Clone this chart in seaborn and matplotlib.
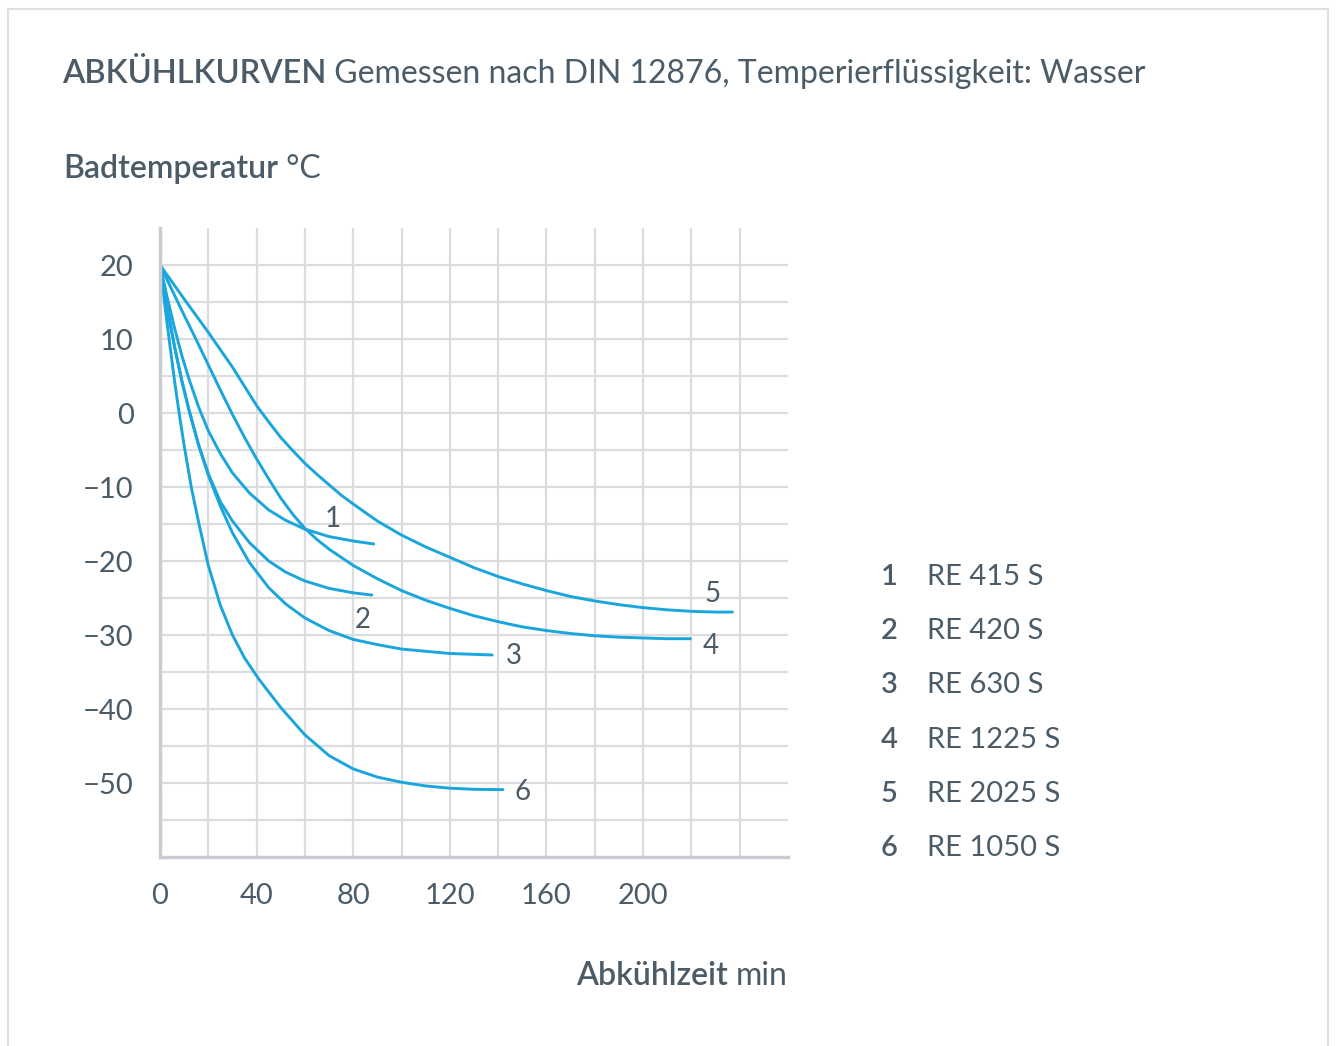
import numpy as np
import pandas as pd
import seaborn as sns
import matplotlib.pyplot as plt
from matplotlib.lines import Line2D

# readings from the chart: cooling time (min) and bath temperature (degC)
t_415 = [0, 3, 6, 9, 12, 16, 20, 25, 30, 37, 45, 52, 60, 70, 80, 88.5]
T_415 = [20, 15.6, 11.5, 7.8, 4.6, 0.8, -2.4, -5.5, -8.1, -10.8, -13.1, -14.5, -15.7, -16.7, -17.3, -17.7]

t_420 = [0, 3, 6, 9, 12, 16, 20, 25, 30, 37, 45, 52, 60, 70, 80, 87.7]
T_420 = [20, 14.2, 9.0, 4.4, 0.4, -4.3, -8.2, -12.0, -14.6, -17.5, -20.0, -21.5, -22.7, -23.7, -24.3, -24.6]

t_630 = [0, 3, 6, 9, 12, 16, 20, 25, 30, 37, 45, 52, 60, 70, 80, 90, 100, 110, 120, 137.5]
T_630 = [20, 14.2, 9.0, 4.4, 0.4, -4.4, -8.4, -12.6, -16.2, -20.2, -23.6, -25.8, -27.7, -29.4, -30.6,
         -31.3, -31.9, -32.2, -32.5, -32.7]

t_1225 = [0, 5, 10, 15, 20, 25, 30, 35, 40, 45, 50, 55, 60, 65, 70, 80, 90, 100, 110, 120,
          130, 140, 150, 160, 170, 180, 190, 200, 210, 219.6]
T_1225 = [20, 16.6, 13.2, 9.9, 6.5, 3.1, -0.2, -3.3, -6.2, -8.9, -11.5, -13.7, -15.6, -17.1, -18.4,
          -20.6, -22.4, -24.0, -25.3, -26.4, -27.4, -28.2, -28.9, -29.4, -29.8, -30.1, -30.3, -30.4,
          -30.5, -30.5]

t_2025 = [0, 10, 20, 30, 40, 45, 50, 55, 60, 65, 70, 75, 80, 90, 100, 110, 120, 130, 140, 150,
          160, 170, 180, 190, 200, 210, 220, 230, 237]
T_2025 = [20, 15.4, 10.9, 6.2, 1.0, -1.2, -3.3, -5.1, -6.8, -8.3, -9.7, -11.1, -12.3, -14.6, -16.5,
          -18.1, -19.5, -20.9, -22.1, -23.1, -24.0, -24.8, -25.4, -25.9, -26.3, -26.6, -26.8, -26.9,
          -26.9]

t_1050 = [0, 2, 4, 6, 8, 10, 13, 16, 20, 25, 30, 35, 41, 50, 60, 70, 80, 90, 100, 110, 120, 130, 142]
T_1050 = [20, 14.6, 9.4, 4.4, -0.2, -4.4, -10.1, -14.8, -20.6, -26.0, -30.0, -33.1, -36.0, -39.8,
          -43.5, -46.3, -48.1, -49.2, -49.9, -50.4, -50.7, -50.85, -50.9]

numbers = ['1', '2', '3', '4', '5', '6']
models = ['RE 415 S', 'RE 420 S', 'RE 630 S', 'RE 1225 S', 'RE 2025 S', 'RE 1050 S']
label_t = [71.7, 84.1, 146.3, 228, 228.8, 150]
label_T = [-14.3, -28.0, -32.8, -31.5, -24.4, -51.2]

x_ticks = [0, 40, 80, 120, 160, 200]
y_ticks = [-50, -40, -30, -20, -10, 0, 10, 20]

series = [(t_415, T_415), (t_420, T_420), (t_630, T_630),
          (t_1225, T_1225), (t_2025, T_2025), (t_1050, T_1050)]
frames = []
for n, (t, T) in zip(numbers, series):
    frames.append(pd.DataFrame({'min': t, 'temp': T, 'curve': n}))
df = pd.concat(frames, ignore_index=True)

sns.set_style('white')
plt.rcParams['font.family'] = ['Lato', 'DejaVu Sans']

line_col = '#1aa6dc'
text_col = '#4b5c68'
grid_col = '#dadcdf'

fig = plt.figure(figsize=(13.36, 10.46), dpi=100)
ax = fig.add_axes([160 / 1336, 1 - 857 / 1046, 628 / 1336, 629 / 1046])

sns.lineplot(data=df, x='min', y='temp', hue='curve', units='curve', estimator=None,
             palette=[line_col] * 6, linewidth=2.1, legend=False, ax=ax, sort=False)

ax.set_xlim(0, 260)
ax.set_ylim(-60, 25)

# grid every 20 min / 5 degC, labels only on some
xg = np.arange(0, 241, 20)
yg = np.arange(-55, 21, 5)
ax.set_xticks(xg)
ax.set_xticklabels([str(v) if v in x_ticks else '' for v in xg])
ax.set_yticks(yg)
ax.set_yticklabels([str(v).replace('-', '\u2212') if v in y_ticks else '' for v in yg])
ax.grid(True, color=grid_col, linewidth=1.6)
ax.set_axisbelow(True)
ax.tick_params(length=0, labelsize=21, labelcolor=text_col)
ax.tick_params(axis='y', pad=19)
ax.tick_params(axis='x', pad=19)
for s in ['top', 'right']:
    ax.spines[s].set_visible(False)
for s in ['left', 'bottom']:
    ax.spines[s].set_color('#c9cdd1')
    ax.spines[s].set_linewidth(2.5)
ax.set_xlabel('')
ax.set_ylabel('')

for n, x, y in zip(numbers, label_t, label_T):
    ax.text(x, y, n, color=text_col, fontsize=20, ha='center', va='center')

# title line
t1 = fig.text(62 / 1336, 1 - 83 / 1046, 'ABKÜHLKURVEN', fontsize=23.5, fontweight='semibold',
              color=text_col, va='baseline')
ax.annotate(' Gemessen nach DIN 12876, Temperierflüssigkeit: Wasser', xy=(1, 0),
            xycoords=t1, fontsize=23, color=text_col, va='bottom',
            annotation_clip=False)

b1 = fig.text(63 / 1336, 1 - 178 / 1046, 'Badtemperatur', fontsize=23, fontweight='semibold',
              color=text_col, va='baseline')
ax.annotate(' °C', xy=(1, 0), xycoords=b1, fontsize=23,
            color=text_col, va='bottom', annotation_clip=False)

m1 = fig.text(788 / 1336, 1 - 985 / 1046, 'min', fontsize=23,
              color=text_col, ha='right', va='baseline')
ax.annotate('Abkühlzeit ', xy=(0, 0), xycoords=m1, fontsize=23, fontweight='semibold',
            color=text_col, ha='right', va='bottom', annotation_clip=False)

# legend on the right
for i, (n, m) in enumerate(zip(numbers, models)):
    yc = 1 - (577 + i * 54.2) / 1046
    fig.text(889 / 1336, yc, n, fontsize=21, fontweight='semibold', color=text_col,
             ha='center', va='center')
    fig.text(927 / 1336, yc, m, fontsize=21, color=text_col,
             ha='left', va='center')

# thin frame around the card
fc = '#dedede'
fig.add_artist(Line2D([8 / 1336, 8 / 1336], [0, 1 - 9 / 1046], color=fc, lw=1.5))
fig.add_artist(Line2D([8 / 1336, 1328 / 1336], [1 - 9 / 1046, 1 - 9 / 1046], color=fc, lw=1.5))
fig.add_artist(Line2D([1328 / 1336, 1328 / 1336], [0, 1 - 9 / 1046], color=fc, lw=1.5))

fig.savefig('out.png', dpi=100, facecolor='white')
